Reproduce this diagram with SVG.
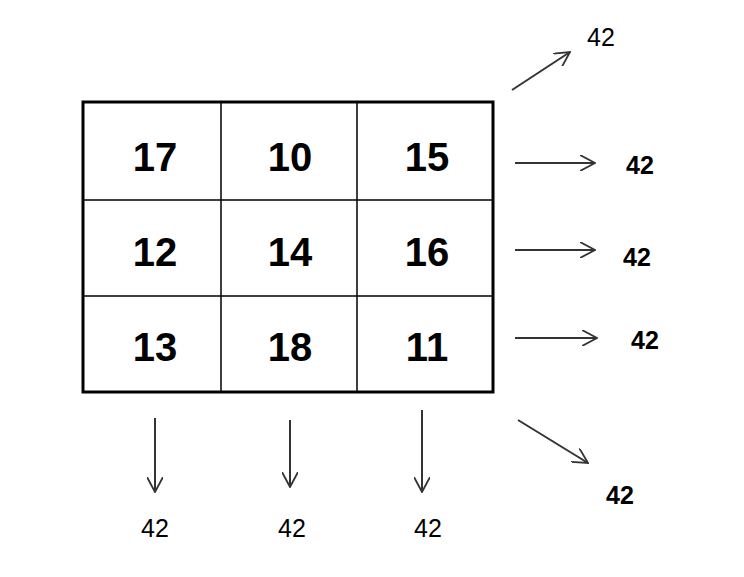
<svg xmlns="http://www.w3.org/2000/svg" width="744" height="577" viewBox="0 0 744 577">
<style>
.n{font-family:"Liberation Sans",Arial,sans-serif;font-weight:bold;font-size:40px;text-anchor:middle;fill:#000}
.l{font-family:"Liberation Sans",Arial,sans-serif;font-size:25px;text-anchor:middle;fill:#000}
.b{font-weight:bold}
.a{stroke:#333;stroke-width:2;fill:none;marker-end:url(#h)}
</style>
<defs><marker id="h" viewBox="0 0 16 16" refX="15" refY="8" markerWidth="16" markerHeight="16" markerUnits="userSpaceOnUse" orient="auto"><path d="M0,0 L15,8 L0,16" fill="none" stroke="#333" stroke-width="1.8"/></marker></defs>
<rect width="744" height="577" fill="#fff"/>
<g id="grid">
<rect x="83" y="102" width="410" height="290" fill="#fff" stroke="#000" stroke-width="3"/>
<path d="M221,102V392M357,102V392M83,200H493M83,296H493" stroke="#000" stroke-width="1.5"/>
</g>
<g id="cells">
<text class="n" x="155" y="171">17</text><text class="n" x="290" y="171">10</text><text class="n" x="427" y="171">15</text>
<text class="n" x="155" y="266">12</text><text class="n" x="290" y="266">14</text><text class="n" x="427" y="266">16</text>
<text class="n" x="155" y="361">13</text><text class="n" x="290" y="361">18</text><text class="n" x="427" y="361">11</text>
</g>
<g id="connectors">
<line class="a" x1="512" y1="90" x2="570" y2="52"/>
<line class="a" x1="515" y1="163" x2="595" y2="163"/>
<line class="a" x1="515" y1="250" x2="595" y2="250"/>
<line class="a" x1="515" y1="338" x2="597" y2="338"/>
<line class="a" x1="518" y1="420" x2="588" y2="463"/>
<line class="a" x1="155" y1="418" x2="155" y2="492"/>
<line class="a" x1="290" y1="420" x2="290" y2="487"/>
<line class="a" x1="422" y1="410" x2="422" y2="492"/>
</g>
<g id="labels">
<text class="l" x="601" y="46">42</text>
<text class="l b" x="640" y="174">42</text>
<text class="l b" x="637" y="266">42</text>
<text class="l b" x="645" y="349">42</text>
<text class="l b" x="620" y="504">42</text>
<text class="l" x="155" y="537">42</text>
<text class="l" x="292" y="537">42</text>
<text class="l" x="428" y="537">42</text>
</g>
</svg>
